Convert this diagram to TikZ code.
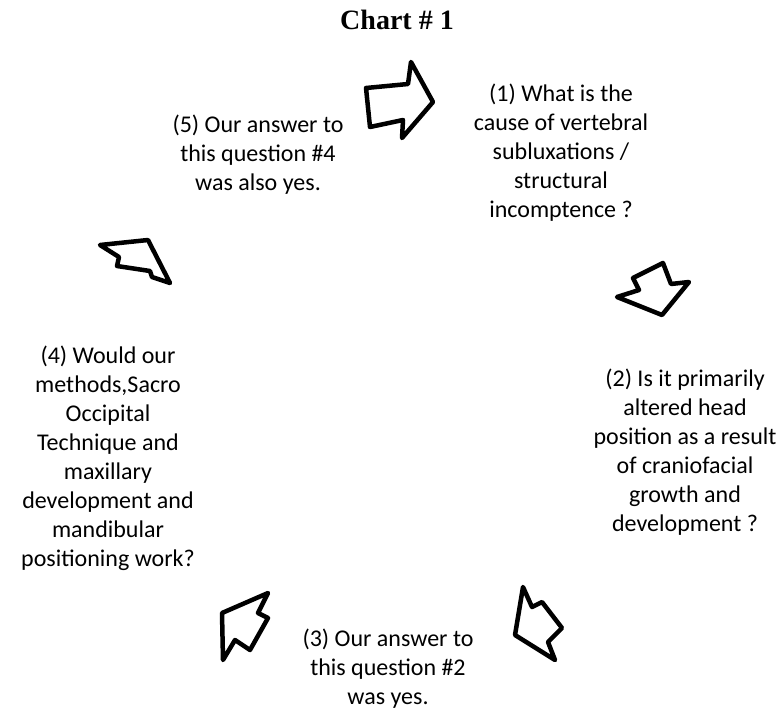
\documentclass[tikz,border=0pt]{standalone}
\usepackage{fontspec}
\setmainfont{Carlito}
\newfontfamily\titlefont{Liberation Serif}
\begin{document}
\begin{tikzpicture}[x=1pt,y=-1pt,
  txt/.style={align=center,font=\fontsize{24}{29}\selectfont,inner sep=0pt},
  blockarrow/.style={draw=black,line width=4.5pt,line join=round,fill=white}]
\useasboundingbox (0,0) rectangle (778,715);
\node[font=\titlefont\bfseries\fontsize{28}{30}\selectfont] (title) at (397,20) {Chart \# 1};
\node[txt] (q1) at (561,153) {(1) What is the\\cause of vertebral\\subluxations /\\structural\\incomptence ?};
\node[txt] (q5) at (258,155) {(5) Our answer to\\this question \#4\\was also yes.};
\node[txt] (q2) at (685,452) {(2) Is it primarily\\altered head\\position as a result\\of craniofacial\\growth and\\development ?};
\node[txt] (q4) at (108,458) {(4) Would our\\methods,Sacro\\Occipital\\Technique and\\maxillary\\development and\\mandibular\\positioning work?};
\node[txt] (q3) at (388,669) {(3) Our answer to\\this question \#2\\was yes.};
% arrow 5 -> 1
\draw[blockarrow] (366,88) -- (408,84) -- (411,62) -- (433,102) -- (402,138) -- (403,120) -- (370,127) -- cycle;
% arrow 1 -> 2
\draw[blockarrow] (617,297) -- (639,290) -- (633,278) -- (663,263) -- (671,284) -- (689,282) -- (662,315) -- cycle;
% arrow 2 -> 3
\draw[blockarrow] (523,587) -- (532,607) -- (542,602) -- (562,628) -- (548,642) -- (555,660) -- (515,635) -- cycle;
% arrow 3 -> 4
\draw[blockarrow] (222,613) -- (268,593) -- (258,613) -- (268,618) -- (250,650) -- (235,640) -- (223,660) -- cycle;
% arrow 4 -> 5
\draw[blockarrow] (100,245) -- (148,240) -- (170,283) -- (152,277) -- (150,271) -- (117,266) -- (119,257) -- cycle;
\end{tikzpicture}
\end{document}
